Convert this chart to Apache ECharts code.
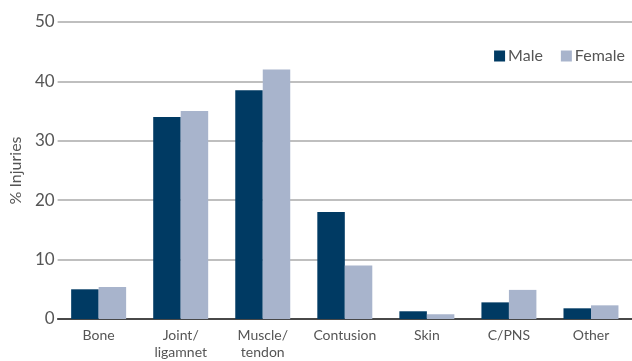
<!DOCTYPE html>
<html>
<head>
<meta charset="utf-8">
<script src="https://cdn.jsdelivr.net/npm/echarts@6/dist/echarts.min.js"></script>
<style>
  html, body { margin: 0; padding: 0; background: #fff; }
  #chart { width: 632px; height: 361px; }
</style>
</head>
<body>
<div id="chart"></div>
<script>
// Injury type distribution by sex
const categories = ['Bone', 'Joint/\nligamnet', 'Muscle/\ntendon', 'Contusion', 'Skin', 'C/PNS', 'Other'];
const maleValues = [5, 34, 38.5, 18, 1.3, 2.8, 1.8];
const femaleValues = [5.4, 35, 42, 9, 0.8, 4.9, 2.3];
const yTicks = { min: 0, max: 50, interval: 10 };

const font = 'Lato, "Open Sans", sans-serif';
const chart = echarts.init(document.getElementById('chart'));
chart.setOption({
  animation: false,
  textStyle: { fontFamily: font },
  legend: {
    right: 2,
    top: 43,
    itemWidth: 11,
    itemHeight: 11,
    itemGap: 18,
    icon: 'rect',
    textStyle: { fontSize: 16, color: '#555', fontFamily: font, padding: [0, 0, 0, -2] },
    data: ['Male', 'Female']
  },
  grid: { left: 54, right: -9, top: 22, bottom: 40 },
  xAxis: {
    type: 'category',
    data: categories,
    axisTick: { show: false },
    axisLine: { lineStyle: { color: '#222', width: 1.5 } },
    axisLabel: { color: '#555', fontSize: 14, lineHeight: 17, margin: 8, fontFamily: font, interval: 0 }
  },
  yAxis: {
    type: 'value',
    min: yTicks.min,
    max: yTicks.max,
    interval: yTicks.interval,
    name: '% Injuries',
    nameLocation: 'middle',
    nameGap: 32,
    nameTextStyle: { color: '#555', fontSize: 16, fontFamily: font },
    axisLine: { show: false },
    axisTick: { show: false },
    axisLabel: { color: '#555', fontSize: 17, margin: 3, fontFamily: font },
    splitLine: { lineStyle: { color: '#aaa', width: 1.5 } }
  },
  series: [
    {
      name: 'Male',
      type: 'bar',
      data: maleValues,
      barGap: '0%',
      barCategoryGap: '33%',
      itemStyle: { color: '#003a63' }
    },
    {
      name: 'Female',
      type: 'bar',
      data: femaleValues,
      itemStyle: { color: '#a8b4cc' }
    }
  ]
});
</script>
</body>
</html>
